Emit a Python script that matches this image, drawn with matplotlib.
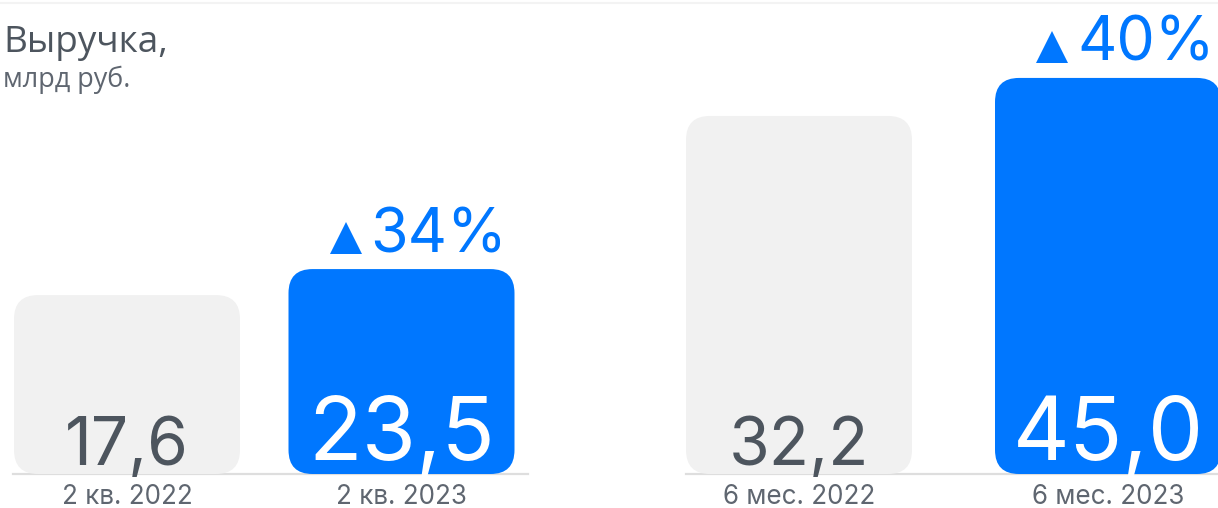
import matplotlib
matplotlib.use("Agg")
import matplotlib.pyplot as plt
from matplotlib.patches import FancyBboxPatch

# ---- data ----
title = "Выручка,"
subtitle = "млрд руб."
left_categories = ["2 кв. 2022", "2 кв. 2023"]
left_values = [17.6, 23.5]
left_labels = ["17,6", "23,5"]
left_growth = "34%"
right_categories = ["6 мес. 2022", "6 мес. 2023"]
right_values = [32.2, 45.0]
right_labels = ["32,2", "45,0"]
right_growth = "40%"

# ---- style ----
W, H = 1218, 508
DPI = 100
BLUE = "#0077ff"
GRAY_BAR = "#f1f1f1"
DARK = "#4d555e"
LABEL = "#5f6670"
NUM_FONT = ["Inter", "DejaVu Sans"]
TXT_FONT = ["Open Sans", "DejaVu Sans"]
PX2PT = 72 / DPI

fig = plt.figure(figsize=(W / DPI, H / DPI), dpi=DPI)
fig.patch.set_facecolor("white")

BASE_Y = 474  # baseline pixel from top


def panel(x0, x1, c0, spacing, bar_w_px, floor, ppu, cats, vals, labels, growth,
          big_idx=1, growth_dx=-31):
    ax = fig.add_axes([x0 / W, (H - BASE_Y) / H, (x1 - x0) / W, BASE_Y / H])
    ax.set_xlim((x0 - c0) / spacing, (x1 - c0) / spacing)
    ax.set_ylim(floor, floor + BASE_Y / ppu)
    ax.axis("off")
    ax.axhline(floor, color="#dedede", lw=1.6, clip_on=False, zorder=0)
    w = bar_w_px / spacing
    r_px = 24
    for i, (v, lab) in enumerate(zip(vals, labels)):
        col = BLUE if i == big_idx else GRAY_BAR
        p = FancyBboxPatch((i - w / 2, floor), w, v - floor,
                           boxstyle=f"round,pad=0,rounding_size={r_px / spacing}",
                           mutation_aspect=spacing / ppu,
                           fc=col, ec="none", zorder=1, clip_on=False)
        ax.add_patch(p)
        if i == big_idx:
            ax.annotate(lab, (i, floor), xytext=(0, 14 * PX2PT), textcoords="offset points",
                        ha="center", va="baseline", color="white",
                        fontsize=88 * PX2PT, family=NUM_FONT, zorder=3)
            # growth label
            ax.annotate(growth, (i, v), xytext=(growth_dx * PX2PT, 17 * PX2PT),
                        textcoords="offset points", ha="left", va="baseline",
                        color=BLUE, fontsize=61 * PX2PT, family=NUM_FONT, zorder=3)
            ax.plot([i], [v], marker="^", markersize=32 * PX2PT, color=BLUE,
                    transform=ax.transData + matplotlib.transforms.ScaledTranslation(
                        -56 / DPI, 31 / DPI, fig.dpi_scale_trans),
                    clip_on=False, zorder=3, markeredgewidth=0)
        else:
            ax.annotate(lab, (i, floor), xytext=(0, 9 * PX2PT), textcoords="offset points",
                        ha="center", va="baseline", color=DARK,
                        fontsize=66 * PX2PT, family=NUM_FONT, zorder=3)
        ax.annotate(cats[i], (i, floor), xytext=(0, -30 * PX2PT), textcoords="offset points",
                    ha="center", va="baseline", color=LABEL,
                    fontsize=26 * PX2PT, family=NUM_FONT, zorder=3, annotation_clip=False)
    return ax


panel(13, 528, 127, 274.5, 226, -23.0, 4.407, left_categories, left_values,
      left_labels, left_growth)
panel(686, 1218, 799, 309, 226, -88.4, 2.969, right_categories, right_values,
      right_labels, right_growth)

# top faint line
fig.add_artist(plt.Line2D([0, 1], [1 - 3 / H, 1 - 3 / H], color="#f3f3f3", lw=1.5))

fig.text(3 / W, 1 - 52 / H, title, ha="left", va="baseline", color=DARK,
         fontsize=37 * PX2PT, family=TXT_FONT)
fig.text(3 / W, 1 - 87 / H, subtitle, ha="left", va="baseline", color=LABEL,
         fontsize=27 * PX2PT, family=TXT_FONT)

fig.savefig("out.png", dpi=DPI, facecolor="white")
